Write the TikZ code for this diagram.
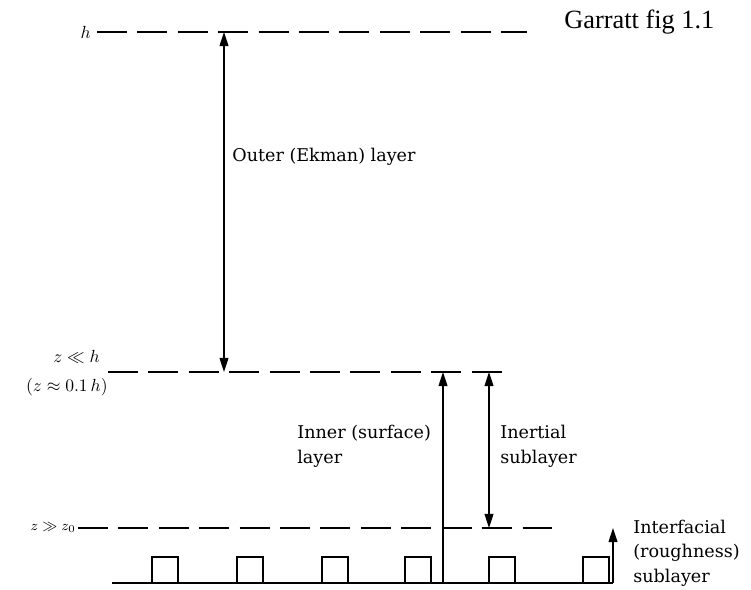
\documentclass[tikz,border=0pt]{standalone}
\usepackage{fontspec}
\setmainfont{Liberation Serif}
\newfontfamily\labelfont{DejaVu Serif}
\usetikzlibrary{arrows.meta}

\begin{document}
\begin{tikzpicture}[x=0.02cm,y=-0.02cm,>={Triangle[length=8pt,width=5pt]},
    font=\labelfont\fontsize{10}{14}\selectfont,
    level/.style={dash pattern=on 17pt off 6pt,line width=1pt},
    marker/.style={->,line width=0.8pt},
    twoway/.style={<->,line width=0.8pt},
    lbl/.style={anchor=west,align=left,inner sep=0pt},
    zlbl/.style={anchor=east,inner sep=0pt}]
    \useasboundingbox (0,0) rectangle (751,590);

    % levels
    \coordinate (hL) at (97,32);   \coordinate (hR) at (527,32);
    \coordinate (mL) at (108,372); \coordinate (mR) at (512,372);
    \coordinate (zL) at (78,528);  \coordinate (zR) at (553,528);
    \coordinate (gL) at (112,583); \coordinate (gR) at (613,583);
    \draw[level] (hL) -- (hR);
    \draw[level] (mL) -- (mR);
    \draw[level] (zL) -- (zR);
    \draw[line width=1pt] (gL) -- (gR);

    % roughness elements
    \foreach \xx in {152,237,322,405,489,583}
        \draw[line width=1pt] (\xx,583) -- (\xx,557) -- ++(26,0) -- ++(0,26);

    % arrows
    \coordinate (ekTop) at (224,32);  \coordinate (ekBot) at (224,372);
    \coordinate (inTop) at (443,372); \coordinate (inBot) at (443,583);
    \coordinate (isTop) at (489,372); \coordinate (isBot) at (489,528);
    \coordinate (rfTop) at (613,528); \coordinate (rfBot) at (613,583);
    \draw[twoway] (ekTop) -- (ekBot);
    \draw[marker] (inBot) -- (inTop);
    \draw[twoway] (isTop) -- (isBot);
    \draw[marker] (rfBot) -- (rfTop);

    % labels
    \node[zlbl] (hlab) at (91,32) {\(h\)};
    \node[zlbl] (mlab) at (100,357) {\(z \ll h\)};
    \node[zlbl] (mlab2) at (108,387) {\((z \approx 0.1\,h)\)};
    \node[zlbl,font=\footnotesize] (zlab) at (76,528) {\(z \gg z_0\)};
    \node[lbl] (outer) at (232,157) {Outer (Ekman) layer};
    \node[lbl] (inner) at (297,446) {Inner (surface)\\layer};
    \node[lbl] (inert) at (500,446) {Inertial\\sublayer};
    \node[lbl] (iface) at (633,553) {Interfacial\\(roughness)\\sublayer};
    \node[lbl,font=\rmfamily\fontsize{15}{17}\selectfont] (title) at (564,22) {Garratt fig 1.1};
\end{tikzpicture}
\end{document}
